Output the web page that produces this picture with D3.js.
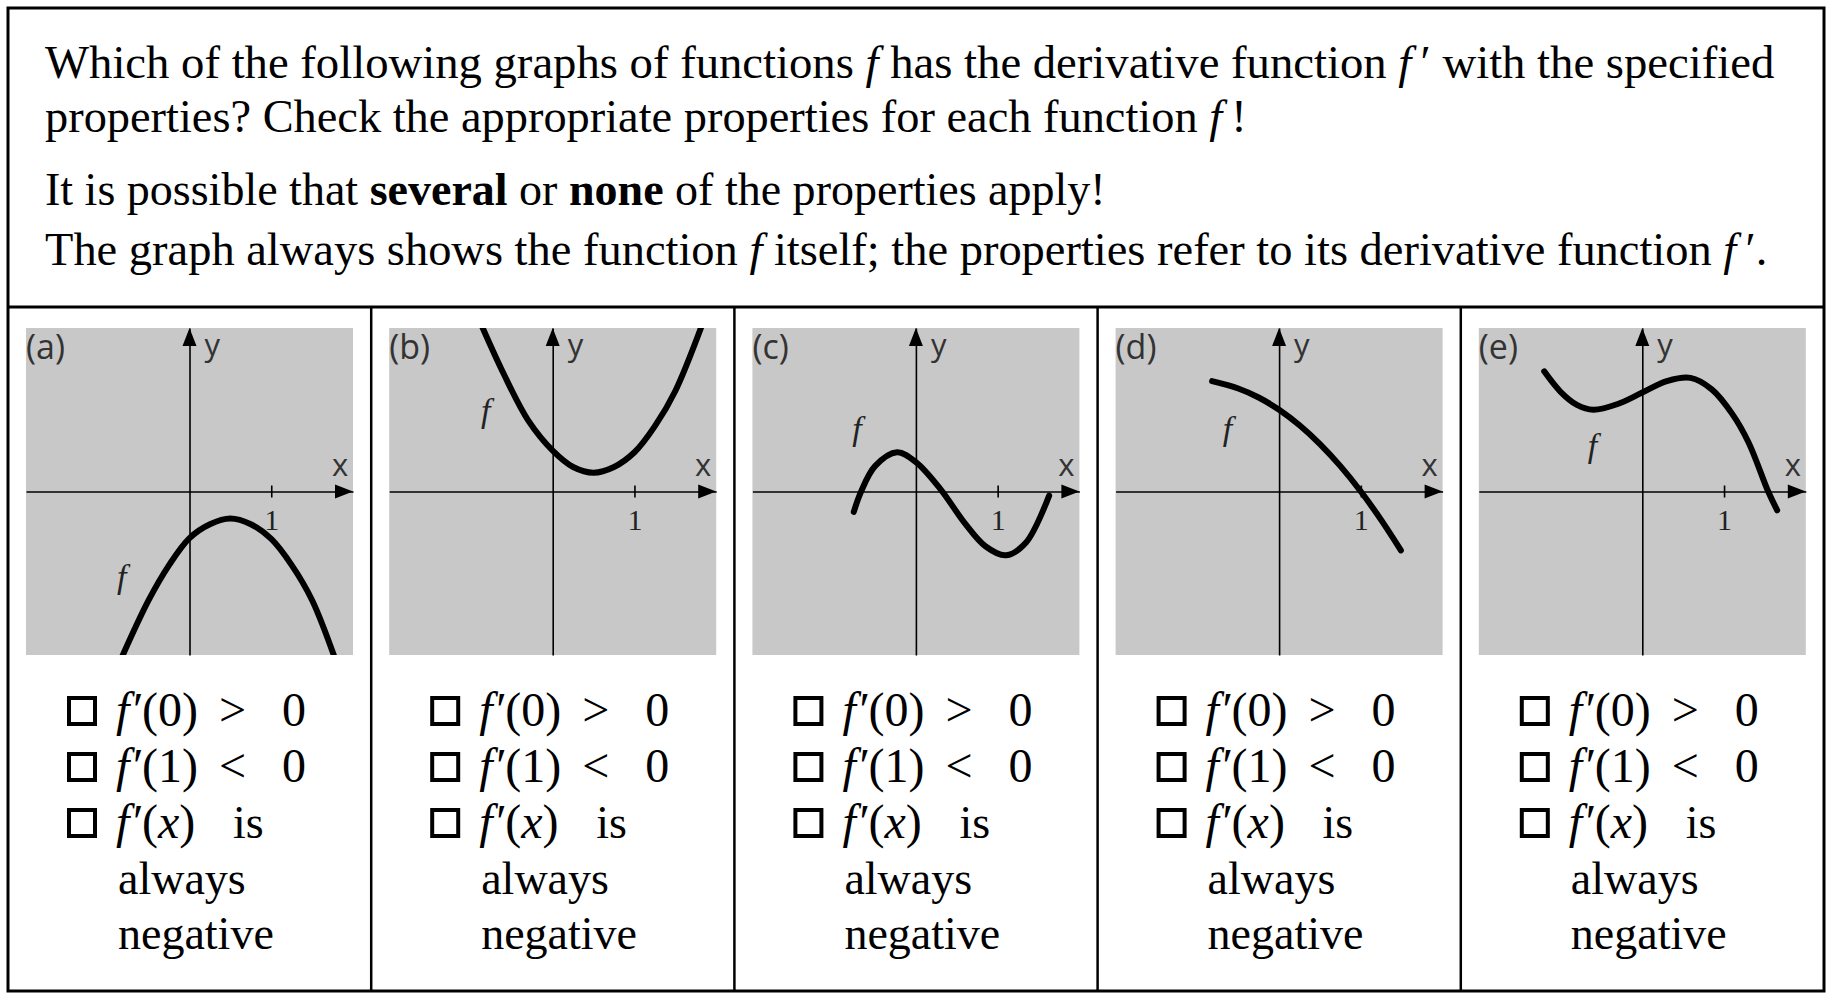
<!DOCTYPE html>
<html><head><meta charset="utf-8">
<script src="https://cdn.jsdelivr.net/npm/d3@7"></script>
<style>body{margin:0;background:#fff}svg{display:block}</style>
</head><body>
<script>
// ---- data ----
const panelLabels = ["(a)", "(b)", "(c)", "(d)", "(e)"];
const curveA = [[-0.86,-2.1],[-0.5,-1.33],[-0.25,-0.9],[0,-0.57],[0.25,-0.4],[0.5,-0.33],[0.75,-0.4],[1.0,-0.58],[1.25,-0.9],[1.5,-1.33],[1.8,-2.1]];
const curveB = [[-0.9,2.1],[-0.6,1.44],[-0.3,0.87],[0,0.5],[0.25,0.3],[0.5,0.23],[0.75,0.3],[1.0,0.48],[1.25,0.8],[1.5,1.23],[1.85,2.1]];
const curveC = [[-0.76,-0.25],[-0.67,0.0],[-0.5,0.31],[-0.23,0.48],[0,0.36],[0.3,0.03],[0.6,-0.39],[0.85,-0.67],[1.1,-0.78],[1.35,-0.62],[1.63,-0.05]];
const curveD = [[-0.82,1.35],[-0.5,1.26],[-0.25,1.15],[0,1.0],[0.25,0.81],[0.5,0.58],[0.75,0.31],[1.0,0.0],[1.25,-0.35],[1.49,-0.72]];
const curveE = [[-1.2,1.47],[-1.0,1.22],[-0.8,1.06],[-0.6,1.0],[-0.3,1.07],[0,1.21],[0.3,1.35],[0.59,1.39],[0.85,1.25],[1.1,0.95],[1.3,0.6],[1.54,0.0],[1.65,-0.23]];
const curves = [curveA, curveB, curveC, curveD, curveE];
const clippedCurves = [true, true, false, false, false];
const fLabelPos = [[-0.83,-1.05],[-0.82,0.99],[-0.72,0.77],[-0.63,0.77],[-0.61,0.56]];
const axisDomain = [-2, 2];
const tickValues = [1];
const tickLabels = ["1"];

// ---- layout ----
const W = 1831, H = 1000;
const svg = d3.select("body").append("svg").attr("width", W).attr("height", H);
const serif = "'Liberation Serif','Times New Roman',serif";
const sans = "'Open Sans','Liberation Sans',sans-serif";

const outer = {x0: 8, y0: 8, x1: 1824, y1: 991};
const divY = 307;
const panelW = (outer.x1 - outer.x0) / 5;

// header text
const header = [
  {y: 78, w: 1730, parts: [["Which of the following graphs of functions ",""],["f","i"],[" has the derivative function ",""],["f","i"],["\u2009\u2032 with the specified",""]]},
  {y: 132, w: 1202, parts: [["properties? Check the appropriate properties for each function ",""],["f","i"],["\u2009!",""]]},
  {y: 205, w: 1061, parts: [["It is possible that ",""],["several","b"],[" or ",""],["none","b"],[" of the properties apply!",""]]},
  {y: 265, w: 1723, parts: [["The graph always shows the function ",""],["f","i"],[" itself; the properties refer to its derivative function ",""],["f","i"],["\u2009\u2032.",""]]}
];
header.forEach(line => {
  const t = svg.append("text").attr("font-family", serif).attr("font-size", 47).attr("fill", "#000")
    .attr("xml:space", "preserve");
  line.parts.forEach(p => {
    t.append("tspan").text(p[0])
      .attr("font-style", p[1] === "i" ? "italic" : "normal")
      .attr("font-weight", p[1] === "b" ? "bold" : "normal");
  });
  const nat = t.node().getComputedTextLength();
  t.attr("transform", `translate(45,${line.y}) scale(${line.w / nat},1)`);
});

// panels
curves.forEach((data, i) => {
  const L = outer.x0 + i * panelW;
  const gx = L + 18, gy = 328, gs = 327;
  const x = d3.scaleLinear().domain(axisDomain).range([gx, gx + gs]);
  const y = d3.scaleLinear().domain(axisDomain).range([gy + gs, gy]);
  const g = svg.append("g");
  g.append("rect").attr("x", gx).attr("y", gy).attr("width", gs).attr("height", gs).attr("fill", "#c8c8c8");

  const clipId = "clip" + i;
  svg.append("clipPath").attr("id", clipId).append("rect").attr("x", gx).attr("y", gy).attr("width", gs).attr("height", gs);

  // x axis
  const xa = g.append("g").attr("transform", `translate(0,${y(0)})`)
    .call(d3.axisBottom(x).tickValues(tickValues).tickSizeOuter(0).tickSizeInner(6).tickFormat((d, k) => tickLabels[k]));
  xa.select(".domain").attr("stroke", "#000").attr("stroke-width", 1.6);
  xa.selectAll(".tick line").attr("y1", -6).attr("y2", 6).attr("stroke", "#000").attr("stroke-width", 1.6);
  xa.selectAll(".tick text").attr("y", 38).attr("dy", 0).attr("font-family", serif).attr("font-size", 30).attr("fill", "#222");
  // y axis
  const ya = g.append("g").attr("transform", `translate(${x(0)},0)`)
    .call(d3.axisLeft(y).tickValues([]).tickSizeOuter(0));
  ya.select(".domain").attr("stroke", "#000").attr("stroke-width", 1.6);

  // arrowheads
  const ax = x(axisDomain[1]), ay = y(0);
  g.append("path").attr("d", `M${ax},${ay} L${ax - 18},${ay - 7} L${ax - 18},${ay + 7} Z`).attr("fill", "#000");
  const bx = x(0), by = y(axisDomain[1]);
  g.append("path").attr("d", `M${bx},${by} L${bx - 7},${by + 18} L${bx + 7},${by + 18} Z`).attr("fill", "#000");

  // axis labels
  g.append("text").attr("x", ax - 13).attr("y", ay - 16).attr("text-anchor", "middle")
    .attr("font-family", sans).attr("font-size", 31).attr("fill", "#333").text("x");
  g.append("text").attr("x", bx + 15).attr("y", by + 28)
    .attr("font-family", sans).attr("font-size", 31).attr("fill", "#333").text("y");
  g.append("text").attr("x", gx).attr("y", gy + 31)
    .attr("font-family", sans).attr("font-size", 34).attr("fill", "#333").text(panelLabels[i]);

  // curve
  const line = d3.line().x(d => x(d[0])).y(d => y(d[1])).curve(d3.curveCatmullRom.alpha(0.5));
  const p = g.append("path").datum(data).attr("d", line).attr("fill", "none").attr("stroke", "#000")
    .attr("stroke-width", 6).attr("stroke-linecap", "round");
  if (clippedCurves[i]) p.attr("clip-path", `url(#${clipId})`).attr("stroke-linecap", "butt");

  // f label
  g.append("text").attr("x", x(fLabelPos[i][0])).attr("y", y(fLabelPos[i][1]) + 11).attr("text-anchor", "middle")
    .attr("font-family", serif).attr("font-style", "italic").attr("font-size", 34).attr("fill", "#222").text("f");

  // properties
  const rows = [726, 782, 838, 894, 949];
  rows.slice(0, 3).forEach(b => {
    g.append("rect").attr("x", L + 61).attr("y", b - 28).attr("width", 26).attr("height", 26)
      .attr("fill", "none").attr("stroke", "#000").attr("stroke-width", 4);
  });
  const mathRow = (b, inner, rel) => {
    const t = g.append("text").attr("y", b).attr("font-family", serif).attr("font-size", 48).attr("fill", "#000");
    t.append("tspan").attr("x", L + 108).attr("font-style", "italic").text("f");
    t.append("tspan").attr("x", L + 125).text("\u2032");
    t.append("tspan").attr("x", L + 134).text("(");
    t.append("tspan").attr("font-style", inner === "x" ? "italic" : "normal").text(inner);
    t.append("tspan").text(")");
    if (rel) {
      t.append("tspan").attr("x", L + 211).text(rel);
      t.append("tspan").attr("x", L + 274).text("0");
    }
    return t;
  };
  mathRow(rows[0], "0", ">");
  mathRow(rows[1], "1", "<");
  mathRow(rows[2], "x", null);
  g.append("text").attr("x", L + 225).attr("y", rows[2]).attr("font-family", serif).attr("font-size", 46).text("is");
  g.append("text").attr("x", L + 110).attr("y", rows[3]).attr("font-family", serif).attr("font-size", 46).text("always");
  g.append("text").attr("x", L + 110).attr("y", rows[4]).attr("font-family", serif).attr("font-size", 46).text("negative");
});

// borders
svg.append("rect").attr("x", outer.x0).attr("y", outer.y0).attr("width", outer.x1 - outer.x0).attr("height", outer.y1 - outer.y0)
  .attr("fill", "none").attr("stroke", "#000").attr("stroke-width", 3);
svg.append("line").attr("x1", outer.x0).attr("x2", outer.x1).attr("y1", divY).attr("y2", divY).attr("stroke", "#000").attr("stroke-width", 3);
d3.range(1, 5).forEach(k => {
  const xx = outer.x0 + k * panelW;
  svg.append("line").attr("x1", xx).attr("x2", xx).attr("y1", divY).attr("y2", outer.y1).attr("stroke", "#000").attr("stroke-width", 2.5);
});
</script>
</body></html>
